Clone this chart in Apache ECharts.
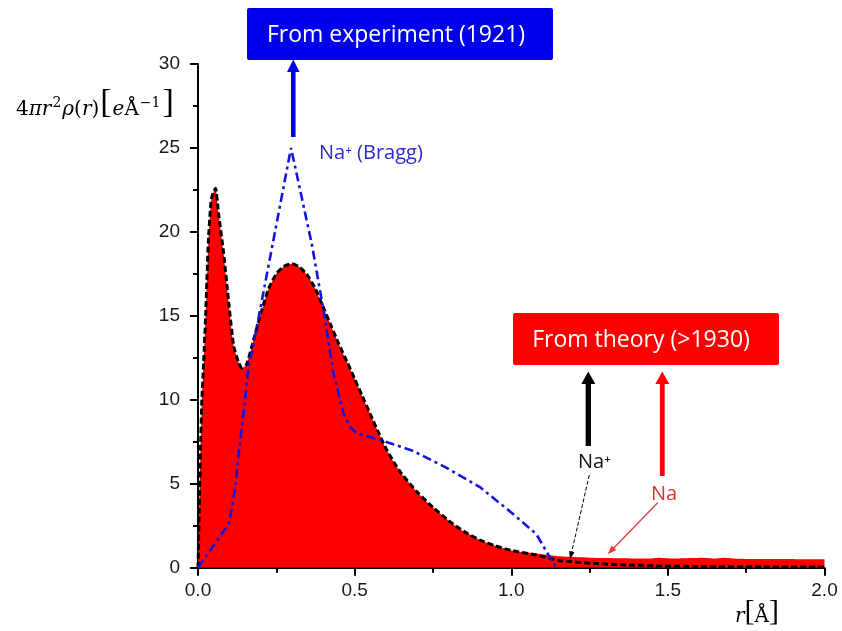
<!DOCTYPE html>
<html>
<head>
<meta charset="utf-8">
<script src="https://cdn.jsdelivr.net/npm/echarts@6/dist/echarts.min.js"></script>
<style>html,body{margin:0;padding:0;background:#fff;}#c{width:842px;height:631px;}</style>
</head>
<body>
<div id="c"></div>
<script>
// shared part of Na and Na+ curves (r in Å, value in e/Å)
var coreR = [0, 0.004, 0.008, 0.012, 0.018, 0.025, 0.033, 0.042, 0.05, 0.056, 0.065, 0.082, 0.098, 0.114, 0.13, 0.141, 0.155, 0.175, 0.2, 0.225, 0.25, 0.275, 0.3, 0.325, 0.35, 0.375, 0.4, 0.425, 0.45, 0.475, 0.5, 0.525, 0.55, 0.575, 0.6, 0.625, 0.65, 0.7, 0.75, 0.8, 0.85, 0.9, 0.95, 1.0];
var coreV = [0, 3.5, 7, 9.8, 12.2, 15.3, 19.4, 21.9, 22.4, 22.6, 21.2, 18.7, 15.8, 13.2, 12.2, 11.9, 12.1, 13.4, 15.1, 16.6, 17.5, 17.95, 18.1, 17.9, 17.4, 16.6, 15.5, 14.4, 13.3, 12.3, 11.25, 10.2, 9.15, 8.1, 7.1, 6.3, 5.6, 4.5, 3.6, 2.8, 2.15, 1.65, 1.3, 1.03];
// Na (neutral atom) tail
var naTailR = [1.08, 1.156, 1.25, 1.35, 1.44, 1.47, 1.52, 1.58, 1.61, 1.65, 1.68, 1.72, 1.85, 2.0];
var naTailV = [0.85, 0.68, 0.6, 0.57, 0.55, 0.6, 0.55, 0.58, 0.6, 0.55, 0.6, 0.54, 0.52, 0.5];
// Na+ (ion) tail
var ionTailR = [1.08, 1.156, 1.26, 1.37, 1.48, 1.6, 1.8, 2.0];
var ionTailV = [0.76, 0.42, 0.26, 0.16, 0.1, 0.07, 0.05, 0.04];
// Na+ (Bragg, experiment)
var braggR = [0, 0.098, 0.109, 0.119, 0.13, 0.146, 0.162, 0.173, 0.297, 0.363, 0.40, 0.432, 0.464, 0.485, 0.507, 0.592, 0.687, 0.794, 0.90, 1.006, 1.08, 1.123, 1.144];
var braggV = [0, 2.6, 3.6, 4.8, 6.8, 9.3, 12.1, 12.9, 25.0, 19.3, 15.4, 11.6, 9.2, 8.4, 8.0, 7.55, 6.95, 5.95, 4.8, 3.2, 2.0, 0.62, 0];

var xTicks = ['0.0', '0.5', '1.0', '1.5', '2.0'];
var yTicks = ['0', '5', '10', '15', '20', '25', '30'];

function zip(a, b) { return a.map(function (v, i) { return [v, b[i]]; }); }
var naData = zip(coreR.concat(naTailR), coreV.concat(naTailV));
var ionData = zip(coreR.concat(ionTailR), coreV.concat(ionTailV));
var braggData = zip(braggR, braggV);

var chart = echarts.init(document.getElementById('c'), null, {renderer: 'canvas'});
var tickFont = {fontFamily: 'Liberation Sans', fontSize: 19, color: '#1a1a1a'};
var serif = 'DejaVu Serif';

function arrowHead(tip, from, len, half, color) {
  var dx = tip[0] - from[0], dy = tip[1] - from[1];
  var L = Math.sqrt(dx * dx + dy * dy), ux = dx / L, uy = dy / L;
  var bx = tip[0] - len * ux, by = tip[1] - len * uy;
  return {type: 'polygon', shape: {points: [[bx - half * uy, by + half * ux], [bx + half * uy, by - half * ux], tip]}, style: {fill: color}, z: 100};
}
function arrow(from, tip, width, len, half, color, dash) {
  var dx = tip[0] - from[0], dy = tip[1] - from[1];
  var L = Math.sqrt(dx * dx + dy * dy);
  var end = [tip[0] - dx / L * (len - 1), tip[1] - dy / L * (len - 1)];
  return [
    {type: 'line', shape: {x1: from[0], y1: from[1], x2: end[0], y2: end[1]}, style: {stroke: color, lineWidth: width, lineDash: dash || null}, z: 100},
    arrowHead(tip, from, len, half, color)
  ];
}

var graphics = [
  {type: 'rect', shape: {x: 247, y: 8, width: 306, height: 52, r: 2}, style: {fill: '#0000ee'}, z: 100},
  {type: 'text', x: 396, y: 35, style: {text: 'From experiment (1921)', fill: '#fff', font: '23px "Open Sans"', textAlign: 'center', textVerticalAlign: 'middle'}, z: 101},
  {type: 'rect', shape: {x: 513, y: 313, width: 266, height: 52, r: 2}, style: {fill: '#ff0000'}, z: 100},
  {type: 'text', x: 641, y: 340, style: {text: 'From theory (>1930)', fill: '#fff', font: '23px "Open Sans"', textAlign: 'center', textVerticalAlign: 'middle'}, z: 101},
  {type: 'text', x: 319, y: 153, style: {text: 'Na\u207A (Bragg)', fill: '#2a2ad0', font: '20px "Open Sans"', textAlign: 'left', textVerticalAlign: 'middle'}, z: 101},
  {type: 'text', x: 578, y: 462, style: {text: 'Na\u207A', fill: '#111', font: '20px "Open Sans"', textAlign: 'left', textVerticalAlign: 'middle'}, z: 101},
  {type: 'text', x: 651, y: 494, style: {text: 'Na', fill: '#e62e2e', font: '20px "Open Sans"', textAlign: 'left', textVerticalAlign: 'middle'}, z: 101},
  {type: 'text', x: 16, y: 104, style: {
    text: '{n|4}{i|\u03C0r}{s|2}{i|\u03C1}{n|(}{i|r}{n|)}{b|[}{i|e}{n|\u00C5}{s|\u22121}{b|]}',
    textVerticalAlign: 'middle',
    rich: {
      n: {fontFamily: serif, fontSize: 20, color: '#222', verticalAlign: 'bottom', lineHeight: 32},
      i: {fontFamily: serif, fontStyle: 'italic', fontSize: 20, color: '#222', verticalAlign: 'bottom', lineHeight: 32},
      s: {fontFamily: serif, fontSize: 14, color: '#222', verticalAlign: 'bottom', lineHeight: 32, padding: [0, 1, 10, 1]},
      b: {fontFamily: 'Liberation Serif', fontSize: 34, color: '#222', verticalAlign: 'bottom', lineHeight: 32, padding: [0, 1, 0, 1]}
    }}, z: 101},
  {type: 'text', x: 735, y: 612, style: {
    text: '{i|r}{b|[}{n|\u00C5}{b|]}',
    textVerticalAlign: 'middle',
    rich: {
      n: {fontFamily: serif, fontSize: 20, color: '#222', verticalAlign: 'bottom', lineHeight: 30},
      i: {fontFamily: serif, fontStyle: 'italic', fontSize: 20, color: '#222', verticalAlign: 'bottom', lineHeight: 30},
      b: {fontFamily: 'Liberation Serif', fontSize: 30, color: '#222', verticalAlign: 'bottom', lineHeight: 30}
    }}, z: 101}
];
graphics = graphics
  .concat(arrow([293.3, 137], [293.3, 59.5], 4.5, 12.5, 6.3, '#0000ee'))
  .concat(arrow([588.3, 446], [588.3, 371.5], 5.3, 12.5, 7, '#000'))
  .concat(arrow([662.3, 476], [662.3, 371.5], 4.8, 12.5, 7, '#ff0000'))
  .concat(arrow([589.3, 475], [570, 559.3], 1, 8, 2.8, '#000', [4, 2]))
  .concat(arrow([657.7, 502.7], [607.7, 554.3], 1.3, 9, 3.2, '#e83a3a'));

var option = {
  animation: false,
  backgroundColor: '#fff',
  grid: {left: 198, right: 17.5, top: 64, bottom: 63.3, containLabel: false},
  xAxis: {
    type: 'value', min: 0, max: 2, interval: 0.5,
    axisLine: {show: true, onZero: false, lineStyle: {color: '#000', width: 2}},
    axisTick: {show: true, inside: false, length: 8, lineStyle: {color: '#000', width: 2}},
    minorTick: {show: true, splitNumber: 2, length: 5, lineStyle: {color: '#000', width: 2}},
    splitLine: {show: false},
    axisLabel: Object.assign({margin: 14, formatter: function (v) { return xTicks[Math.round(v / 0.5)]; }}, tickFont)
  },
  yAxis: {
    type: 'value', min: 0, max: 30, interval: 5,
    axisLine: {show: true, onZero: false, lineStyle: {color: '#000', width: 2}},
    axisTick: {show: true, inside: false, length: 8, lineStyle: {color: '#000', width: 2}},
    minorTick: {show: true, splitNumber: 2, length: 5, lineStyle: {color: '#000', width: 2}},
    splitLine: {show: false},
    axisLabel: Object.assign({margin: 18, formatter: function (v) { return yTicks[Math.round(v / 5)]; }}, tickFont)
  },
  series: [
    {name: 'Na', type: 'line', data: naData, showSymbol: false, smooth: 0.2,
      lineStyle: {width: 0, color: '#ff0000'}, itemStyle: {color: '#ff0000'},
      areaStyle: {color: '#ff0000', opacity: 1}, z: 2},
    {name: 'Na+', type: 'line', data: ionData, showSymbol: false, smooth: 0.2,
      lineStyle: {width: 3, color: '#000', type: [6, 3]}, itemStyle: {color: '#000'}, z: 3},
    {name: 'Na+ (Bragg)', type: 'line', data: braggData, showSymbol: false, smooth: false,
      lineStyle: {width: 2.6, color: '#1414dc', type: [9, 4, 3, 4]}, itemStyle: {color: '#1414dc'}, z: 4}
  ],
  graphic: graphics
};
chart.setOption(option);
</script>
</body>
</html>
